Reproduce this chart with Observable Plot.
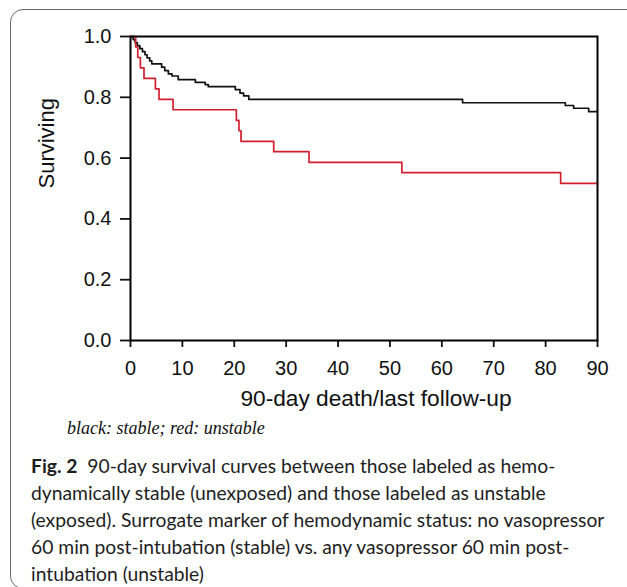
<!DOCTYPE html>
<html>
<head>
<meta charset="utf-8">
<script src="https://cdn.jsdelivr.net/npm/d3@7"></script>
<script src="https://cdn.jsdelivr.net/npm/@observablehq/plot@0.6"></script>
<style>
  html, body { margin: 0; padding: 0; background: #fff; }
  #wrap { position: relative; width: 627px; height: 587px; overflow: hidden; background: #fff; }
  #border { position: absolute; left: 10px; top: 9px; width: 700px; height: 580px;
            border: 1.5px solid #6a6a6a; border-radius: 13px; box-sizing: border-box; }
  #chart { position: absolute; left: 0; top: 0; }
  #note { position: absolute; left: 67px; top: 418px; font-family: "Liberation Serif", "DejaVu Serif", serif;
          font-style: italic; font-size: 18px; color: #111; white-space: nowrap; }
  #caption { position: absolute; left: 31px; top: 452px; font-family: Lato, "Open Sans", sans-serif;
             font-size: 19.3px; line-height: 27px; color: #1e1e1e; white-space: nowrap; }
  #caption b { font-weight: 700; }
</style>
</head>
<body>
<div id="wrap">
  <div id="border"></div>
  <div id="chart"></div>
  <div id="note">black: stable; red: unstable</div>
  <div id="caption"><b>Fig. 2</b>&nbsp; 90-day survival curves between those labeled as hemo-<br>dynamically stable (unexposed) and those labeled as unstable<br>(exposed). Surrogate marker of hemodynamic status: no vasopressor<br>60 min post-intubation (stable) vs. any vasopressor 60 min post-<br>intubation (unstable)</div>
</div>
<script>
// Data
const stableDays = [0, 0.5, 0.9, 1.3, 1.8, 2.3, 2.8, 3.2, 3.7, 4.1, 6.0, 6.6, 7.3, 8.0, 9.2, 12.5, 14.4, 15.0, 20.2, 21.1, 21.8, 22.8, 64.0, 83.8, 85.4, 88.3, 90];
const stableSurv = [1.0, 0.99, 0.98, 0.97, 0.96, 0.95, 0.94, 0.93, 0.92, 0.91, 0.899, 0.888, 0.877, 0.870, 0.858, 0.849, 0.842, 0.835, 0.825, 0.814, 0.805, 0.793, 0.782, 0.773, 0.764, 0.753, 0.753];
const unstableDays = [0, 1.0, 1.4, 1.9, 2.6, 4.8, 5.5, 8.2, 20.4, 20.9, 21.3, 27.6, 34.4, 52.3, 82.9, 90];
const unstableSurv = [1.0, 0.966, 0.931, 0.897, 0.862, 0.828, 0.793, 0.759, 0.724, 0.690, 0.655, 0.621, 0.586, 0.552, 0.517, 0.517];
const xTicks = [0, 10, 20, 30, 40, 50, 60, 70, 80, 90];
const yTicks = [0.0, 0.2, 0.4, 0.6, 0.8, 1.0];
const xTitle = "90-day death/last follow-up";
const yTitle = "Surviving";

const stable = stableDays.map((d, i) => ({day: d, surv: stableSurv[i]}));
const unstable = unstableDays.map((d, i) => ({day: d, surv: unstableSurv[i]}));

const chart = Plot.plot({
  width: 627,
  height: 420,
  marginLeft: 130,
  marginRight: 30,
  marginTop: 36,
  marginBottom: 80,
  style: {fontFamily: "'Liberation Sans', Arial, sans-serif", fontSize: "20px", color: "#111", background: "transparent"},
  x: {domain: [0, 90]},
  y: {domain: [0, 1]},
  marks: [
    Plot.axisX({ticks: xTicks, tickSize: 7, tickPadding: 13, fontSize: 20, label: null, strokeWidth: 1.8}),
    Plot.axisY({ticks: yTicks, tickSize: 10, tickPadding: 9, fontSize: 20, label: null, strokeWidth: 1.8,
                tickFormat: d => d.toFixed(1)}),
    Plot.line(stable, {x: "day", y: "surv", curve: "step-after", stroke: "#111", strokeWidth: 1.7}),
    Plot.line(unstable, {x: "day", y: "surv", curve: "step-after", stroke: "#d21f30", strokeWidth: 1.7}),
    Plot.frame({stroke: "#000", strokeWidth: 2}),
    Plot.text([xTitle], {frameAnchor: "bottom", dy: 65, dx: 12, fontSize: 22.7, fill: "#111"}),
    Plot.text([yTitle], {frameAnchor: "left", dx: -84, rotate: -90, fontSize: 22, fill: "#111"})
  ]
});
document.getElementById("chart").appendChild(chart);
</script>
</body>
</html>
